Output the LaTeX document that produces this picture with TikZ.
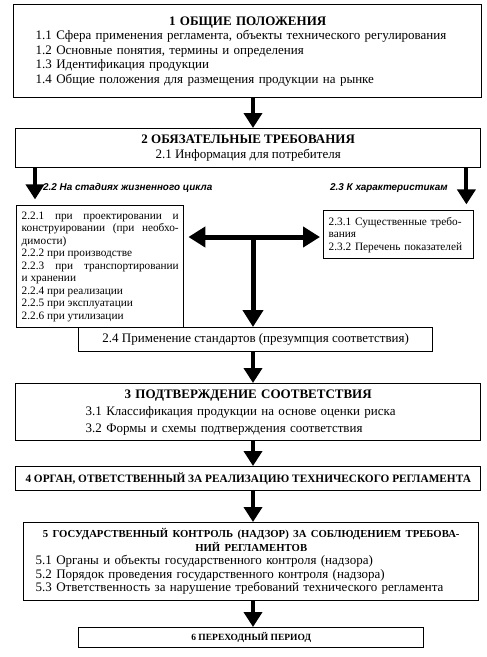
\documentclass[tikz,border=0pt]{standalone}
\usepackage{fontspec}
\setmainfont{Liberation Serif}
\setsansfont{Liberation Sans}
\usetikzlibrary{positioning,arrows.meta}

\tikzset{
  blk/.style={draw, line width=1.4pt, anchor=north west, inner ysep=0pt,
    font=\fontsize{13}{14.5}\selectfont},
  smallblk/.style={blk, font=\fontsize{11.3}{12.5}\selectfont},
  capsblk/.style={blk, align=center, font=\bfseries\fontsize{11.3}{13}\selectfont},
  bigarrow/.style={line width=4pt, -{Triangle[length=15pt,width=18pt]}},
  lbl/.style={anchor=west, inner sep=0pt,
    font=\sffamily\bfseries\itshape\fontsize{9.9}{11}\selectfont},
}

\begin{document}
\begin{tikzpicture}[x=1pt,y=-1pt]
  \useasboundingbox (0,0) rectangle (487,657);
  \coordinate (spine) at (253,0);
  \coordinate (hub) at (253,237);
  %% section 1
  \node[blk, minimum width=468pt, minimum height=93pt, inner xsep=22pt,
    text width=424pt, align=left] (b1) at (13,4) {%
    \centerline{\textbf{1 ОБЩИЕ ПОЛОЖЕНИЯ}}
    1.1 Сфера применения регламента, объекты технического регулирования\\
    1.2 Основные понятия, термины и определения\\
    1.3 Идентификация продукции\\
    1.4 Общие положения для размещения продукции на рынке};
  %% section 2
  \node[blk, minimum width=465pt, minimum height=39pt, align=center] (b2) at (15,128)
    {\textbf{2 ОБЯЗАТЕЛЬНЫЕ ТРЕБОВАНИЯ}\\[1pt] 2.1 Информация для потребителя};
  \node[smallblk, minimum width=167pt, minimum height=122pt, inner xsep=5pt,
    text width=157pt, align=justify] (b22) at (16,205) {%
    2.2.1 при проектировании и\linebreak
    конструировании (при необхо-\linebreak
    димости)\\
    2.2.2 при производстве\\
    2.2.3 при транспортировании\linebreak
    и хранении\\
    2.2.4 при реализации\\
    2.2.5 при эксплуатации\\
    2.2.6 при утилизации};
  \node[smallblk, minimum width=150pt, minimum height=48pt, inner xsep=5pt,
    text width=140pt, align=left] (b23) at (323,210) {%
    2.3.1 Существенные требо-\\
    вания\\
    2.3.2 Перечень показателей};
  \node[lbl] (l22) at (43,188) {2.2 На стадиях жизненного цикла};
  \node[lbl] (l23) at (330,188) {2.3 К характеристикам};
  \node[blk, minimum width=354pt, minimum height=24pt, align=center] (b24) at (78,327)
    {2.4 Применение стандартов (презумпция соответствия)};
  %% section 3
  \node[blk, minimum width=465pt, minimum height=57pt, inner xsep=70pt,
    text width=325pt, align=left, font=\fontsize{13}{17}\selectfont] (b3) at (15,383) {%
    \centerline{\textbf{3 ПОДТВЕРЖДЕНИЕ СООТВЕТСТВИЯ}}
    3.1 Классификация продукции на основе оценки риска\\
    3.2 Формы и схемы подтверждения соответствия};
  %% sections 4 - 6
  \node[capsblk, minimum width=465pt, minimum height=24pt] (b4) at (15,466)
    {4 ОРГАН, ОТВЕТСТВЕННЫЙ ЗА РЕАЛИЗАЦИЮ ТЕХНИЧЕСКОГО РЕГЛАМЕНТА};
  \node[blk, minimum width=455pt, minimum height=78pt, inner xsep=12pt,
    text width=431pt, align=left, font=\fontsize{13}{13.5}\selectfont] (b5) at (23,522) {%
    \centerline{\bfseries\fontsize{10.7}{14}\selectfont 5 ГОСУДАРСТВЕННЫЙ КОНТРОЛЬ (НАДЗОР) ЗА СОБЛЮДЕНИЕМ ТРЕБОВА-}
    \centerline{\bfseries\fontsize{10.7}{14}\selectfont НИЙ РЕГЛАМЕНТОВ}
    5.1 Органы и объекты государственного контроля (надзора)\\
    5.2 Порядок проведения государственного контроля (надзора)\\
    5.3 Ответственность за нарушение требований технического регламента};
  \node[capsblk, minimum width=345pt, minimum height=20pt,
    font=\bfseries\fontsize{9.5}{11}\selectfont] (b6) at (78,627)
    {6 ПЕРЕХОДНЫЙ ПЕРИОД};
  % стрелки
  \draw[bigarrow] (b1.south -| spine) -- (b2.north -| spine);
  \draw[bigarrow, shorten >=7pt] (b2.south -| b22.west) ++(19,0) -- ++(0,38);
  \draw[bigarrow, shorten >=7pt] (b2.south -| b23.east) ++(-8,0) -- ++(0,43);
  \draw[bigarrow, {Triangle[length=17pt,width=20pt]}-{Triangle[length=17pt,width=20pt]}, line width=5pt,
    shorten <=4pt, shorten >=3pt] (b22.east |- hub) -- (b23.west |- hub);
  \draw[bigarrow, line width=5pt, -{Triangle[length=17pt,width=20pt]}] (hub) -- (b24.north -| hub);
  \draw[bigarrow] (b24.south -| spine) -- (b3.north -| spine);
  \draw[bigarrow] (b3.south -| spine) -- (b4.north -| spine);
  \draw[bigarrow] (b4.south -| spine) -- (b5.north -| spine);
  \draw[bigarrow] (b5.south -| spine) -- (b6.north -| spine);
\end{tikzpicture}
\end{document}
